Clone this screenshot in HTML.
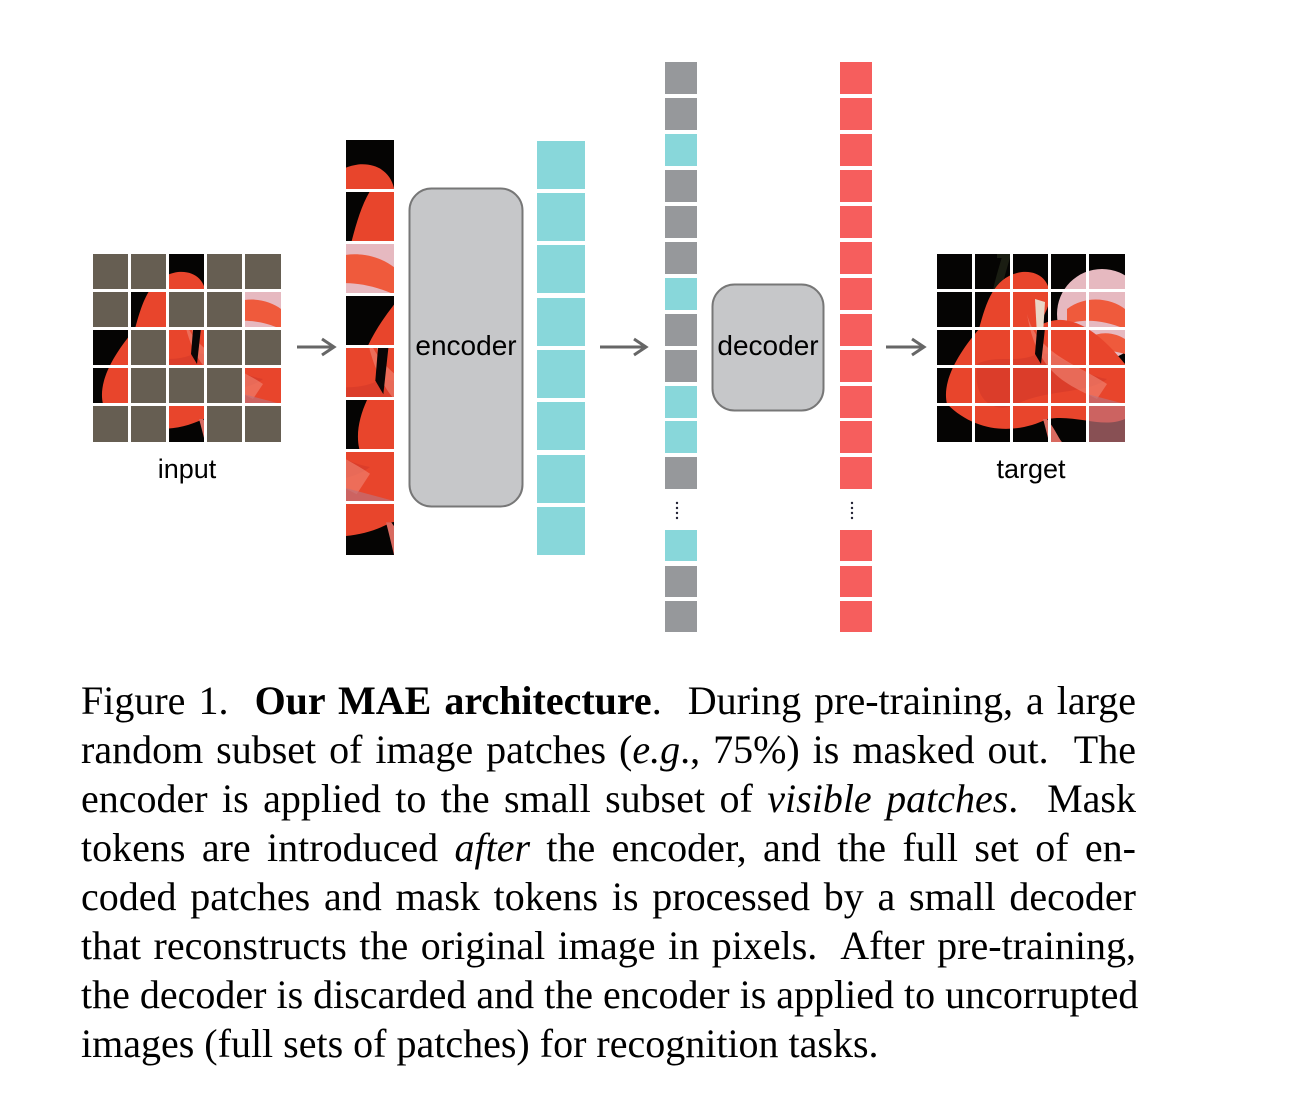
<!DOCTYPE html>
<html><head><meta charset="utf-8">
<style>
html,body{margin:0;padding:0;background:#fff;width:1310px;height:1100px;overflow:hidden}
svg{position:absolute;left:0;top:0}
.cap{position:absolute;left:81px;width:1055px;top:676px;font-family:"Liberation Serif",serif;font-size:40px;line-height:49px;color:#000}
.cap div{text-align:justify;text-align-last:justify;white-space:nowrap}
.cap div.last{text-align-last:left}
</style></head><body>
<svg width="1310" height="660" viewBox="0 0 1310 660" xmlns="http://www.w3.org/2000/svg">
<defs>
<g id="fl">
 <rect x="0" y="0" width="188" height="188" fill="#050403"/>
 <path d="M60,0 L70,0 C64,20 58,40 56,60" fill="none" stroke="#1a1d12" stroke-width="8"/>
 <ellipse cx="165" cy="60" rx="45" ry="45" fill="#e6b9c0"/>
 <path d="M130,55 C150,40 175,45 188,55 L188,75 C165,65 145,65 130,70Z" fill="#ef5a3c"/>
 <path d="M150,85 C165,75 180,80 188,85 L188,100 C170,95 160,95 150,100Z" fill="#ef5a3c"/>
 <path d="M10,150 C4,125 25,95 42,75 C50,45 58,22 85,18 C108,16 118,35 110,55 L102,72 C130,55 160,75 188,110 L188,165 C165,175 140,160 110,165 C80,180 40,180 10,150 Z" fill="#e8452c"/>
 <path d="M40,110 C60,100 80,110 100,100 C120,95 140,120 170,125 C150,140 110,135 80,150 C60,160 35,150 40,110Z" fill="#d63a2a" opacity="0.7"/>
 <path d="M90,60 C100,100 140,110 170,130 L160,145 C130,130 100,120 90,60Z" fill="#f08878" opacity="0.6"/>
 <path d="M98,45 L108,48 L106,80 L100,82 Z" fill="#e9d6c6"/>
 <path d="M100,76 L108,74 L104,110 L98,100 Z" fill="#0a0606"/>
 <path d="M150,140 L188,150 L188,188 L150,188Z" fill="#c07078" opacity="0.7"/>
 <path d="M110,165 C118,175 122,185 125,188 L112,188 C110,180 108,172 106,165Z" fill="#d86a60"/>
</g>
<clipPath id="c"><rect width="188" height="188"/></clipPath>
<g id="grid" stroke="#fff" stroke-width="3" fill="none">
 <line x1="36.5" y1="0" x2="36.5" y2="188"/><line x1="74.5" y1="0" x2="74.5" y2="188"/><line x1="112.5" y1="0" x2="112.5" y2="188"/><line x1="150.5" y1="0" x2="150.5" y2="188"/>
 <line y1="36.5" x1="0" y2="36.5" x2="188"/><line y1="74.5" x1="0" y2="74.5" x2="188"/><line y1="112.5" x1="0" y2="112.5" x2="188"/><line y1="150.5" x1="0" y2="150.5" x2="188"/>
</g>
</defs>

<g transform="translate(93,254)">
 <g clip-path="url(#c)"><use href="#fl"/></g>
 <g fill="#665e52">
  <rect x="0" y="0" width="35" height="35"/><rect x="38" y="0" width="35" height="35"/><rect x="114" y="0" width="35" height="35"/><rect x="152" y="0" width="36" height="35"/>
  <rect x="0" y="38" width="35" height="35"/><rect x="76" y="38" width="35" height="35"/><rect x="114" y="38" width="35" height="35"/>
  <rect x="38" y="76" width="35" height="35"/><rect x="114" y="76" width="35" height="35"/><rect x="152" y="76" width="36" height="35"/>
  <rect x="38" y="114" width="35" height="35"/><rect x="76" y="114" width="35" height="35"/><rect x="114" y="114" width="35" height="35"/>
  <rect x="0" y="152" width="35" height="36"/><rect x="38" y="152" width="35" height="36"/><rect x="114" y="152" width="35" height="36"/><rect x="152" y="152" width="36" height="36"/>
 </g>
 <use href="#grid"/>
</g>
<text x="187" y="478" font-family="Liberation Sans,sans-serif" font-size="27" text-anchor="middle">input</text>

<svg x="346" y="140" width="48" height="49" viewBox="76 0 36 36" preserveAspectRatio="none"><use href="#fl"/></svg>
<svg x="346" y="192" width="48" height="49" viewBox="38 38 36 36" preserveAspectRatio="none"><use href="#fl"/></svg>
<svg x="346" y="244" width="48" height="49" viewBox="152 38 36 36" preserveAspectRatio="none"><use href="#fl"/></svg>
<svg x="346" y="296" width="48" height="49" viewBox="0 76 36 36" preserveAspectRatio="none"><use href="#fl"/></svg>
<svg x="346" y="348" width="48" height="49" viewBox="76 76 36 36" preserveAspectRatio="none"><use href="#fl"/></svg>
<svg x="346" y="400" width="48" height="49" viewBox="0 114 36 36" preserveAspectRatio="none"><use href="#fl"/></svg>
<svg x="346" y="452" width="48" height="49" viewBox="152 114 36 36" preserveAspectRatio="none"><use href="#fl"/></svg>
<svg x="346" y="504" width="48" height="51" viewBox="76 152 36 36" preserveAspectRatio="none"><use href="#fl"/></svg>

<g stroke="#666" stroke-width="3" fill="none">
 <line x1="297" y1="347" x2="332" y2="347"/><path d="M322,339 L334,347 L322,355"/>
 <line x1="600" y1="347" x2="644" y2="347"/><path d="M634,339 L646,347 L634,355"/>
 <line x1="886" y1="347" x2="922" y2="347"/><path d="M912,339 L924,347 L912,355"/>
</g>

<rect x="409.5" y="188.5" width="113" height="318" rx="22" fill="#c6c7c9" stroke="#777" stroke-width="2"/>
<text x="466" y="355" font-family="Liberation Sans,sans-serif" font-size="28" text-anchor="middle">encoder</text>

<g fill="#88d7da">
 <rect x="537" y="141" width="48" height="48"/><rect x="537" y="193" width="48" height="48"/><rect x="537" y="245" width="48" height="48"/><rect x="537" y="298" width="48" height="48"/>
 <rect x="537" y="350" width="48" height="48"/><rect x="537" y="402" width="48" height="48"/><rect x="537" y="455" width="48" height="48"/><rect x="537" y="507" width="48" height="48"/>
</g>

<g>
 <rect x="665" y="62" width="32" height="32" fill="#96989b"/>
 <rect x="665" y="98" width="32" height="32" fill="#96989b"/>
 <rect x="665" y="134" width="32" height="32" fill="#88d7da"/>
 <rect x="665" y="170" width="32" height="32" fill="#96989b"/>
 <rect x="665" y="206" width="32" height="32" fill="#96989b"/>
 <rect x="665" y="242" width="32" height="32" fill="#96989b"/>
 <rect x="665" y="278" width="32" height="32" fill="#88d7da"/>
 <rect x="665" y="314" width="32" height="32" fill="#96989b"/>
 <rect x="665" y="350" width="32" height="32" fill="#96989b"/>
 <rect x="665" y="386" width="32" height="32" fill="#88d7da"/>
 <rect x="665" y="421" width="32" height="32" fill="#88d7da"/>
 <rect x="665" y="457" width="32" height="32" fill="#96989b"/>
 <rect x="665" y="530" width="32" height="31" fill="#88d7da"/>
 <rect x="665" y="566" width="32" height="31" fill="#96989b"/>
 <rect x="665" y="601" width="32" height="31" fill="#96989b"/>
</g>
<g fill="#223">
 <circle cx="677" cy="503" r="1.2"/><circle cx="677" cy="508" r="1.2"/><circle cx="677" cy="513" r="1.2"/><circle cx="677" cy="518" r="1.2"/>
 <circle cx="852" cy="503" r="1.2"/><circle cx="852" cy="508" r="1.2"/><circle cx="852" cy="513" r="1.2"/><circle cx="852" cy="518" r="1.2"/>
</g>

<rect x="712.5" y="284.5" width="111" height="126" rx="22" fill="#c6c7c9" stroke="#777" stroke-width="2"/>
<text x="768" y="355" font-family="Liberation Sans,sans-serif" font-size="28" text-anchor="middle">decoder</text>

<g fill="#f65e5d">
 <rect x="840" y="62" width="32" height="32"/><rect x="840" y="98" width="32" height="32"/><rect x="840" y="134" width="32" height="32"/><rect x="840" y="170" width="32" height="32"/>
 <rect x="840" y="206" width="32" height="32"/><rect x="840" y="242" width="32" height="32"/><rect x="840" y="278" width="32" height="32"/><rect x="840" y="314" width="32" height="32"/>
 <rect x="840" y="350" width="32" height="32"/><rect x="840" y="386" width="32" height="32"/><rect x="840" y="421" width="32" height="32"/><rect x="840" y="457" width="32" height="32"/>
 <rect x="840" y="530" width="32" height="31"/><rect x="840" y="566" width="32" height="31"/><rect x="840" y="601" width="32" height="31"/>
</g>

<g transform="translate(937,254)">
 <g clip-path="url(#c)"><use href="#fl"/></g>
 <use href="#grid"/>
</g>
<text x="1031" y="478" font-family="Liberation Sans,sans-serif" font-size="27" text-anchor="middle">target</text>
</svg>

<div class="cap">
<div>Figure 1.&nbsp; <b>Our MAE architecture</b>.&nbsp; During pre-training, a large</div>
<div>random subset of image patches (<i>e.g</i>., 75%) is masked out.&nbsp; The</div>
<div>encoder is applied to the small subset of <i>visible patches</i>.&nbsp; Mask</div>
<div>tokens are introduced <i>after</i> the encoder, and the full set of en-</div>
<div>coded patches and mask tokens is processed by a small decoder</div>
<div>that reconstructs the original image in pixels.&nbsp; After pre-training,</div>
<div>the decoder is discarded and the encoder is applied to uncorrupted</div>
<div class="last">images (full sets of patches) for recognition tasks.</div>
</div>
</body></html>
